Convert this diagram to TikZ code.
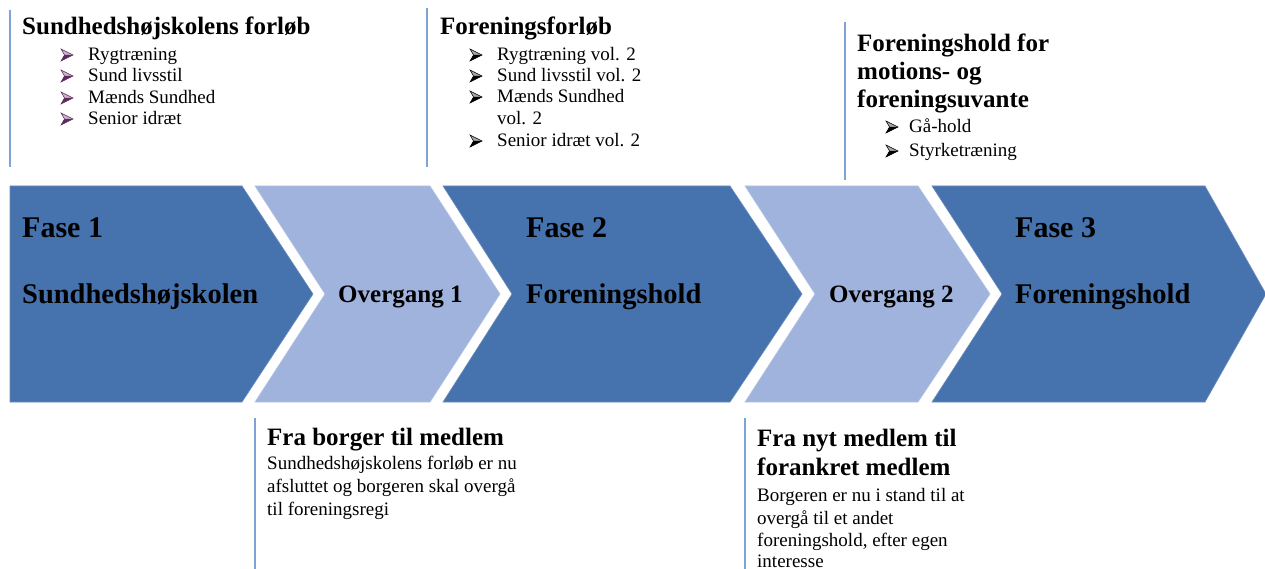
\documentclass[tikz,border=0pt]{standalone}
\usepackage{fontspec}
\setmainfont{Liberation Serif}
\definecolor{dk}{HTML}{4672AD}
\definecolor{lt}{HTML}{A0B3DC}
\definecolor{lnc}{HTML}{7FA3D4}
\definecolor{plum}{HTML}{5E2A5E}
\begin{document}
\begin{tikzpicture}[x=1pt,y=-1pt,
  txt/.style={inner sep=0pt, anchor=base west},
  phase/.style={txt, font=\fontsize{30}{36}\selectfont\bfseries},
  pname/.style={txt, font=\fontsize{28.5}{34}\selectfont\bfseries},
  trans/.style={txt, font=\fontsize{25}{30}\selectfont\bfseries},
  head/.style={txt, font=\fontsize{25}{30}\selectfont\bfseries},
  item/.style={txt, font=\fontsize{19}{23}\selectfont},
  sep/.style={draw=lnc, line width=1.3pt},
  darkchev/.style={fill=dk, draw=dk!80!white, line width=0.6pt},
  lightchev/.style={fill=lt, draw=lt!80!white, line width=0.6pt},
  pics/bul/.style={code={
    \fill[#1!35!white] (0,-6)--(12,0)--(3.5,0)--cycle;
    \fill[#1] (3.5,0)--(12,0)--(0,6)--cycle;
    \draw[#1, line width=0.5pt, line join=miter] (0,-6)--(12,0)--(0,6)--(3.5,0)--cycle;
  }}
]
\useasboundingbox (0,0) rectangle (1265,569);
\fill[white] (0,0) rectangle (1265,569);

% chevrons
\path[darkchev]  (10,186) -- (242,186) -- (313,294) -- (242,402) -- (10,402) -- cycle;
\path[lightchev] (255,186) -- (430,186) -- (500,294) -- (430,402) -- (255,402) -- (325,294) -- cycle;
\path[darkchev]  (443,186) -- (730,186) -- (802,294) -- (730,402) -- (443,402) -- (512,294) -- cycle;
\path[lightchev] (745,186) -- (918,186) -- (990,294) -- (918,402) -- (745,402) -- (815,294) -- cycle;
\path[darkchev]  (932,186) -- (1205,186) -- (1266,294) -- (1205,402) -- (932,402) -- (1002,294) -- cycle;

% chevron labels
\node[phase] (f1)  at (22,237)  {Fase 1};
\node[pname] (f1n) at (22,303)  {Sundhedshøjskolen};
\node[trans] (o1)  at (338,302) {Overgang 1};
\node[phase] (f2)  at (526,237) {Fase 2};
\node[pname] (f2n) at (526,303) {Foreningshold};
\node[trans] (o2)  at (829,302) {Overgang 2};
\node[phase] (f3)  at (1015,237) {Fase 3};
\node[pname] (f3n) at (1015,303) {Foreningshold};

% separator lines
\draw[sep] (10,10) -- (10,167);
\draw[sep] (427,8) -- (427,167);
\draw[sep] (845,22) -- (845,180);
\draw[sep] (255,418) -- (255,569);
\draw[sep] (745,418) -- (745,569);

% block 1
\node[head] (b1h) at (22,35) {Sundhedshøjskolens forløb};
\pic at (61,55) {bul=plum};
\node[item] (b1a) at (88,61) {Rygtræning};
\pic at (61,76) {bul=plum};
\node[item] (b1b) at (88,82) {Sund livsstil};
\pic at (61,98) {bul=plum};
\node[item] (b1c) at (88,104) {Mænds Sundhed};
\pic at (61,119) {bul=plum};
\node[item] (b1d) at (88,125) {Senior idræt};

% block 2
\node[head] (b2h) at (440,35) {Foreningsforløb};
\pic at (470,55) {bul=black};
\node[item] (b2a) at (497,61) {Rygtræning vol. 2};
\pic at (470,76) {bul=black};
\node[item] (b2b) at (497,82) {Sund livsstil vol. 2};
\pic at (470,97) {bul=black};
\node[item] (b2c) at (497,103) {Mænds Sundhed};
\node[item] (b2d) at (497,125) {vol. 2};
\pic at (470,141) {bul=black};
\node[item] (b2e) at (497,147) {Senior idræt vol. 2};

% block 3
\node[head] (b3h1) at (857,52) {Foreningshold for};
\node[head] (b3h2) at (857,80) {motions- og};
\node[head] (b3h3) at (857,108) {foreningsuvante};
\pic at (886,127) {bul=black};
\node[item] (b3a) at (909,133) {Gå-hold};
\pic at (886,151) {bul=black};
\node[item] (b3b) at (909,157) {Styrketræning};

% block 4
\node[head] (b4h) at (267,445) {Fra borger til medlem};
\node[item] (b4a) at (267,469) {Sundhedshøjskolens forløb er nu};
\node[item] (b4b) at (267,492) {afsluttet og borgeren skal overgå};
\node[item] (b4c) at (267,515) {til foreningsregi};

% block 5
\node[head] (b5h1) at (757,446) {Fra nyt medlem til};
\node[head] (b5h2) at (757,475) {forankret medlem};
\node[item] (b5a) at (757,501) {Borgeren er nu i stand til at};
\node[item] (b5b) at (757,524) {overgå til et andet};
\node[item] (b5c) at (757,546) {foreningshold, efter egen};
\node[item] (b5d) at (757,567) {interesse};
\end{tikzpicture}
\end{document}
